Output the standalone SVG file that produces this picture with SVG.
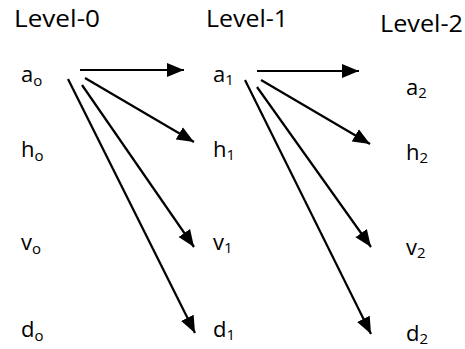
<svg xmlns="http://www.w3.org/2000/svg" width="465" height="349" viewBox="0 0 465 349">
<style>
.t{font-family:"Open Sans","Liberation Sans",sans-serif;fill:#000}
.lv{font-size:24px}
.n{font-size:22px}
.s{font-size:15px}
.c line{stroke:#000;stroke-width:2.2;fill:none;marker-end:url(#ah)}
</style>
<defs>
<marker id="ah" markerUnits="userSpaceOnUse" markerWidth="18" markerHeight="16" viewBox="0 0 18 16" refX="17" refY="8" orient="auto">
<path d="M0,1 L17,8 L0,15 Z" fill="#000"/>
</marker>
</defs>
<g id="titles">
<text class="t lv" x="14" y="27" textLength="86" lengthAdjust="spacingAndGlyphs">Level-0</text>
<text class="t lv" x="206" y="27" textLength="82" lengthAdjust="spacingAndGlyphs">Level-1</text>
<text class="t lv" x="380" y="32" textLength="83" lengthAdjust="spacingAndGlyphs">Level-2</text>
</g>
<g id="a0"><text class="t n" x="21" y="82">a<tspan class="s" dy="4">o</tspan></text></g>
<g id="h0"><text class="t n" x="21" y="157">h<tspan class="s" dy="4">o</tspan></text></g>
<g id="v0"><text class="t n" x="21" y="250">v<tspan class="s" dy="4">o</tspan></text></g>
<g id="d0"><text class="t n" x="21" y="337">d<tspan class="s" dy="4">o</tspan></text></g>
<g id="a1"><text class="t n" x="213" y="82">a<tspan class="s" dy="3">1</tspan></text></g>
<g id="h1"><text class="t n" x="213" y="157">h<tspan class="s" dy="3">1</tspan></text></g>
<g id="v1"><text class="t n" x="213" y="250">v<tspan class="s" dy="3">1</tspan></text></g>
<g id="d1"><text class="t n" x="213" y="337">d<tspan class="s" dy="3">1</tspan></text></g>
<g id="a2"><text class="t n" x="406" y="95">a<tspan class="s" dy="3">2</tspan></text></g>
<g id="h2"><text class="t n" x="406" y="160">h<tspan class="s" dy="3">2</tspan></text></g>
<g id="v2"><text class="t n" x="406" y="255">v<tspan class="s" dy="3">2</tspan></text></g>
<g id="d2"><text class="t n" x="406" y="341">d<tspan class="s" dy="3">2</tspan></text></g>
<g id="connectors" class="c">
<line x1="80" y1="70" x2="184" y2="70"/>
<line x1="85" y1="78" x2="194" y2="142"/>
<line x1="82" y1="85" x2="194" y2="247"/>
<line x1="68" y1="79" x2="195" y2="333"/>
<line x1="257" y1="71" x2="359" y2="71"/>
<line x1="261" y1="80" x2="370" y2="144"/>
<line x1="257" y1="87" x2="371" y2="247"/>
<line x1="245" y1="80" x2="371" y2="334"/>
</g>
</svg>
